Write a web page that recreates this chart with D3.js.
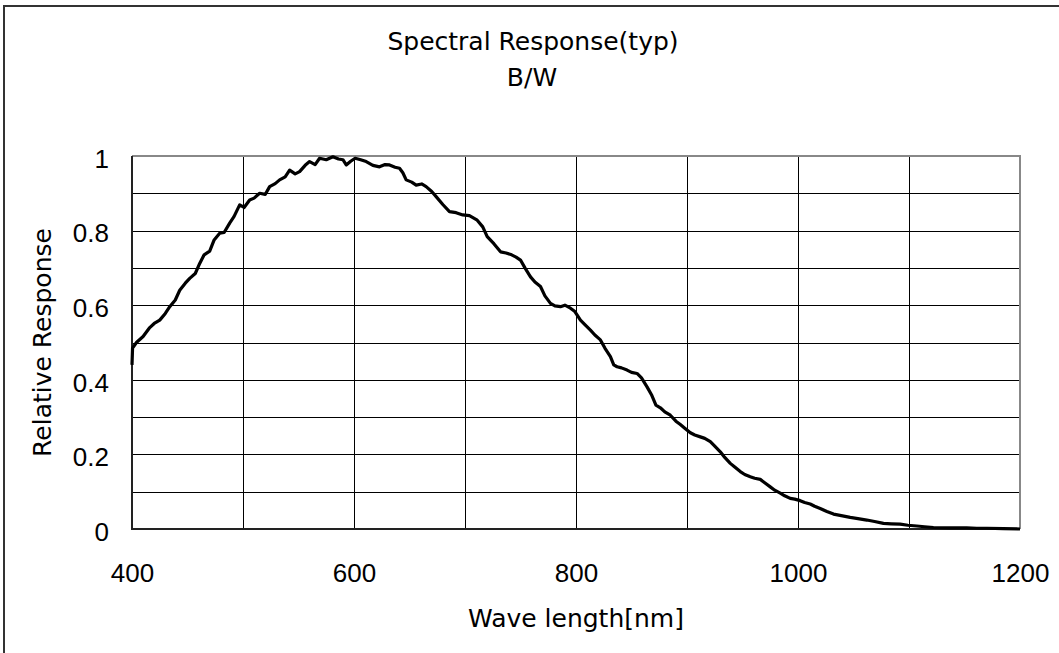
<!DOCTYPE html>
<meta charset="utf-8">
<script src="https://cdn.jsdelivr.net/npm/d3@7"></script>
<style>
  body { margin: 0; background: #fff; }
  text { fill: #000; }
</style>
<body>
<script>

// chart text
var title1 = "Spectral Response(typ)"
var title2 = "B/W"
var xLabel = "Wave length[nm]"
var yLabel = "Relative Response"

// tick values
var xTicks = [400, 600, 800, 1000, 1200]
var yTicks = [0, 0.2, 0.4, 0.6, 0.8, 1]
var xGrid = [500, 600, 700, 800, 900, 1000, 1100]
var yGrid = [0.1, 0.2, 0.3, 0.4, 0.5, 0.6, 0.7, 0.8, 0.9]

// curve
var wavelength = [400, 400.5, 404, 410, 416, 420, 425, 430, 434, 439, 443, 448, 452, 457, 461, 465, 470, 474, 479, 483, 488, 492, 497, 501, 506, 510, 515, 520, 524, 529, 533, 538, 542, 547, 551, 556, 560, 565, 569, 575, 581, 586, 590, 593, 597, 601, 606, 611, 617, 623, 628, 632, 637, 641, 644, 647, 652, 656, 661, 665, 670, 674, 680, 686, 692, 698, 704, 711, 716, 720, 726, 732, 737, 742, 746, 750, 754, 759, 763, 768, 772, 777, 781, 786, 790, 795, 799, 804, 808, 813, 817, 822, 826, 831, 834, 837, 841, 846, 850, 855, 859, 864, 868, 872, 876, 880, 885, 890, 894, 898, 903, 907, 912, 916, 921, 925, 930, 934, 939, 943, 948, 952, 957, 961, 966, 970, 975, 979, 984, 988, 993, 997, 1002, 1006, 1011, 1015, 1020, 1026, 1032, 1039, 1047, 1054, 1062, 1069, 1077, 1084, 1092, 1099, 1107, 1114, 1122, 1137, 1152, 1161, 1170, 1185, 1200]
var response = [0.44, 0.485, 0.500, 0.516, 0.540, 0.551, 0.560, 0.578, 0.596, 0.614, 0.640, 0.659, 0.672, 0.685, 0.712, 0.735, 0.745, 0.775, 0.793, 0.795, 0.820, 0.838, 0.869, 0.862, 0.882, 0.887, 0.900, 0.897, 0.918, 0.926, 0.936, 0.944, 0.962, 0.952, 0.958, 0.975, 0.985, 0.977, 0.994, 0.990, 0.998, 0.992, 0.990, 0.976, 0.986, 0.994, 0.990, 0.985, 0.975, 0.971, 0.977, 0.976, 0.970, 0.967, 0.955, 0.936, 0.930, 0.922, 0.925, 0.918, 0.905, 0.891, 0.870, 0.851, 0.848, 0.842, 0.840, 0.828, 0.810, 0.784, 0.765, 0.743, 0.740, 0.735, 0.729, 0.721, 0.700, 0.676, 0.662, 0.650, 0.625, 0.605, 0.598, 0.596, 0.600, 0.592, 0.583, 0.560, 0.548, 0.533, 0.520, 0.507, 0.485, 0.462, 0.440, 0.435, 0.432, 0.426, 0.420, 0.417, 0.405, 0.381, 0.360, 0.332, 0.325, 0.314, 0.305, 0.289, 0.280, 0.270, 0.258, 0.252, 0.247, 0.243, 0.234, 0.222, 0.207, 0.192, 0.176, 0.166, 0.154, 0.146, 0.140, 0.136, 0.133, 0.124, 0.113, 0.104, 0.096, 0.089, 0.082, 0.080, 0.076, 0.071, 0.067, 0.061, 0.055, 0.047, 0.040, 0.036, 0.031, 0.028, 0.024, 0.020, 0.015, 0.014, 0.013, 0.010, 0.008, 0.006, 0.004, 0.003, 0.003, 0.002, 0.002, 0.001, 0.0]

var W = 1059, H = 653
var margin = {left: 132, right: 39, top: 156, bottom: 124}

var svg = d3.select("body").append("svg")
            .attr("width", W)
            .attr("height", H)

// outer frame: only the left and top edges show
svg.append("path")
   .attr("d", "M4," + H + "V6H" + W)
   .attr("fill", "none").attr("stroke", "#333").attr("stroke-width", 2)

var x = d3.scaleLinear().domain([400, 1200]).range([margin.left, W - margin.right])
var y = d3.scaleLinear().domain([0, 1]).range([H - margin.bottom, margin.top])

// grid
svg.append("g").selectAll("line").data(xGrid).join("line")
   .attr("x1", d => Math.round(x(d)) + 0.5).attr("x2", d => Math.round(x(d)) + 0.5)
   .attr("y1", y(0)).attr("y2", y(1))
   .attr("stroke", "#000").attr("stroke-width", 1)
svg.append("g").selectAll("line").data(yGrid).join("line")
   .attr("y1", d => Math.round(y(d)) + 0.5).attr("y2", d => Math.round(y(d)) + 0.5)
   .attr("x1", x(400)).attr("x2", x(1200))
   .attr("stroke", "#000").attr("stroke-width", 1)

// plot frame: grey top/right, black axes
svg.append("path")
   .attr("d", "M" + x(400) + "," + y(1) + "H" + x(1200) + "V" + y(0))
   .attr("fill", "none").attr("stroke", "#888").attr("stroke-width", 2)
svg.append("path")
   .attr("d", "M" + x(400) + "," + y(1) + "V" + y(0) + "H" + x(1200))
   .attr("fill", "none").attr("stroke", "#222").attr("stroke-width", 2)

// x axis labels
svg.append("g").call(d3.axisBottom(x).tickValues(xTicks).tickSize(0).tickPadding(0).tickFormat(d3.format("d")))
   .attr("transform", "translate(0," + (y(0) + 53) + ")")
   .call(g => g.select(".domain").remove())
   .selectAll("text").attr("font-size", 26).attr("font-family", "Liberation Sans").attr("dy", 0)

// y axis labels
svg.append("g").call(d3.axisLeft(y).tickValues(yTicks).tickSize(0).tickPadding(0).tickFormat(d => d === 0 || d === 1 ? d : d.toFixed(1)))
   .attr("transform", "translate(" + (x(400) - 23) + ",3)")
   .call(g => g.select(".domain").remove())
   .selectAll("text").attr("font-size", 26).attr("font-family", "Liberation Sans")

// curve
var line = d3.line().x((d, i) => x(wavelength[i])).y(d => y(d))
svg.append("path")
   .attr("d", line(response))
   .attr("fill", "none").attr("stroke", "#000").attr("stroke-width", 3.2)
   .attr("stroke-linejoin", "round")

// titles
var tfont = "DejaVu Sans"
svg.append("text").attr("x", 533).attr("y", 50).attr("text-anchor", "middle")
   .attr("font-family", tfont).attr("font-size", 25).text(title1)
svg.append("text").attr("x", 532).attr("y", 86).attr("text-anchor", "middle")
   .attr("font-family", tfont).attr("font-size", 25).text(title2)
svg.append("text").attr("x", (x(400) + x(1200)) / 2).attr("y", 627).attr("text-anchor", "middle")
   .attr("font-family", tfont).attr("font-size", 25).text(xLabel)
svg.append("text")
   .attr("transform", "translate(51," + (y(0) + y(1)) / 2 + ") rotate(-90)")
   .attr("text-anchor", "middle")
   .attr("font-family", tfont).attr("font-size", 25).text(yLabel)

</script>
</body>
